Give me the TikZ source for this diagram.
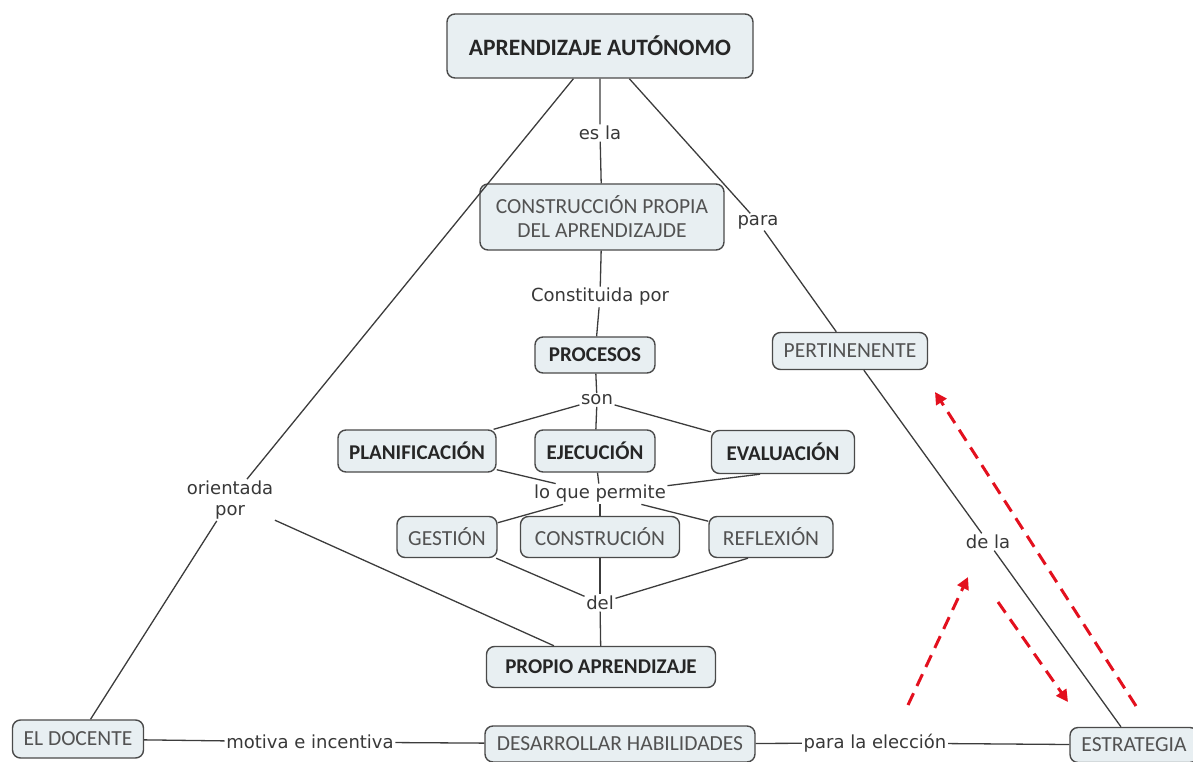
\documentclass[tikz,border=0pt]{standalone}
\usepackage{fontspec}
\setmainfont{Carlito}
\newfontfamily\linkfont{DejaVu Sans}
\usetikzlibrary{positioning, arrows.meta}
\definecolor{boxfill}{HTML}{E8EFF2}
\definecolor{boxline}{HTML}{4A4A4A}
\definecolor{linkline}{HTML}{3C3C3C}
\definecolor{dashred}{HTML}{E3101E}

\begin{document}
\begin{tikzpicture}[x=1pt, y=-1pt,
    concept/.style={draw=boxline, line width=1.4pt, fill=boxfill, rounded corners=8pt,
        text=black!68, font=\fontsize{21.5}{24}\selectfont, align=center, inner sep=0pt},
    keyconcept/.style={concept, text=black!85, font=\fontsize{21}{24}\selectfont\bfseries},
    link/.style={fill=white, inner sep=1.5pt, text=black!78,
        font=\linkfont\fontsize{18}{21}\selectfont, align=center},
    edge/.style={draw=linkline, line width=1.3pt},
    redarrow/.style={draw=dashred, line width=3pt, dash pattern=on 13pt off 8pt,
        -{Triangle[length=12pt, width=12pt]}}]
    \useasboundingbox (0,0) rectangle (1193,762);

    % concepts
    \node[keyconcept, minimum width=306pt, minimum height=64pt,
        font=\fontsize{23.5}{26}\selectfont\bfseries] (auto) at (600,46) {APRENDIZAJE AUTÓNOMO};
    \node[concept, minimum width=244pt, minimum height=66pt] (propia) at (602,217)
        {CONSTRUCCIÓN PROPIA\\DEL APRENDIZAJDE};
    \node[keyconcept, minimum width=120pt, minimum height=36pt] (procesos) at (595,355) {PROCESOS};
    \node[keyconcept, minimum width=158pt, minimum height=42pt] (planif) at (417,451) {PLANIFICACIÓN};
    \node[keyconcept, minimum width=120pt, minimum height=42pt] (ejec) at (595,451) {EJECUCIÓN};
    \node[keyconcept, minimum width=143pt, minimum height=43pt] (eval) at (783,452) {EVALUACIÓN};
    \node[concept, minimum width=100pt, minimum height=41pt] (gestion) at (447,537) {GESTIÓN};
    \node[concept, minimum width=159pt, minimum height=41pt] (construc) at (600,537) {CONSTRUCIÓN};
    \node[concept, minimum width=124pt, minimum height=41pt] (reflex) at (771,537) {REFLEXIÓN};
    \node[keyconcept, minimum width=229pt, minimum height=41pt] (propio) at (601,667) {PROPIO APRENDIZAJE};
    \node[concept, minimum width=155pt, minimum height=37pt] (pertin) at (850,351) {PERTINENENTE};
    \node[concept, minimum width=131pt, minimum height=38pt] (docente) at (78,739) {EL DOCENTE};
    \node[concept, minimum width=270pt, minimum height=36pt] (desarr) at (620,744) {DESARROLLAR HABILIDADES};
    \node[concept, minimum width=128pt, minimum height=35pt] (estrat) at (1134,745) {ESTRATEGIA};

    % linking phrases
    \node[link] (esla) at (600,133) {es la};
    \node[link] (constit) at (600,297) {Constituida por};
    \node[link] (son) at (597,400) {son};
    \node[link] (permite) at (600,494) {lo que permite};
    \node[link] (del) at (600,603) {del};
    \node[link] (para) at (758,222) {para};
    \node[link] (dela) at (988,542) {de la};
    \node[link] (orient) at (230,500) {orientada\\por};
    \node[link] (motiva) at (310,742) {motiva e incentiva};
    \node[link] (eleccion) at (875,743) {para la elección};

    \draw[edge] (auto) -- (esla) -- (propia) -- (constit) -- (procesos) -- (son);
    \draw[edge] (son) -- (planif);
    \draw[edge] (son) -- (ejec);
    \draw[edge] (son) -- (eval);
    \draw[edge] (planif) -- (permite);
    \draw[edge] (ejec) -- (permite);
    \draw[edge] ([xshift=-23pt]eval.south) -- (permite);
    \draw[edge] (permite) -- (gestion);
    \draw[edge] (permite) -- (construc);
    \draw[edge] (permite) -- (reflex);
    \draw[edge] (gestion) -- (del);
    \draw[edge] (construc) -- (del);
    \draw[edge] ([xshift=-23pt]reflex.south) -- (del);
    \draw[edge] (del) -- (propio);
    \draw[edge] (auto) -- (orient) -- (docente);
    \draw[edge] (orient) -- (propio);
    \draw[edge] (auto) -- (para) -- (pertin) -- (dela) -- (estrat);
    \draw[edge] (docente) -- (motiva) -- (desarr) -- (eleccion) -- (estrat);

    % red dashed arrows
    \coordinate (upfrom) at (1136,706);
    \coordinate (upto) at (935,392);
    \coordinate (leftfrom) at (908,705);
    \coordinate (leftto) at (968,577);
    \coordinate (downfrom) at (998,602);
    \coordinate (downto) at (1068,702);
    \draw[redarrow] (upfrom) -- (upto);
    \draw[redarrow] (leftfrom) -- (leftto);
    \draw[redarrow] (downfrom) -- (downto);
\end{tikzpicture}
\end{document}
